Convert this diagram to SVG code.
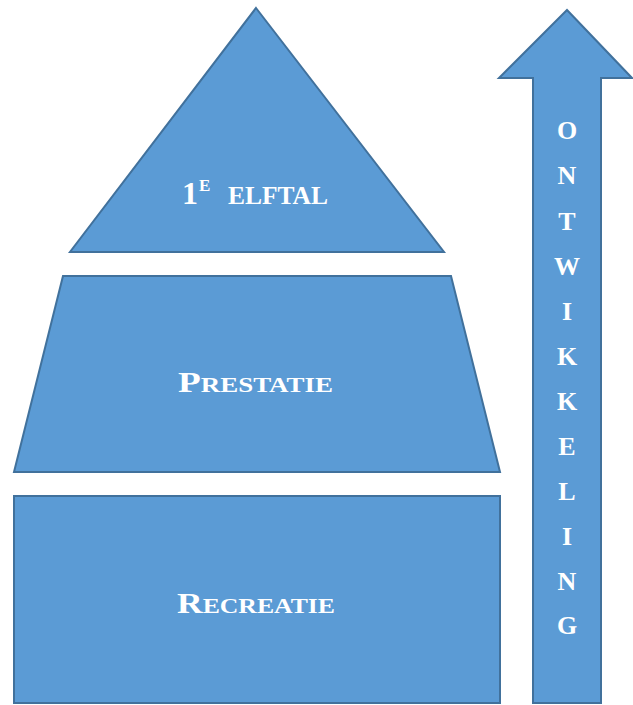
<svg xmlns="http://www.w3.org/2000/svg" width="633" height="705" viewBox="0 0 633 705">
<style>
.shape{fill:#5B9BD5;stroke:#41719C;stroke-width:2;stroke-linejoin:miter}
.lbl{font-family:"Liberation Serif",serif;font-weight:bold;fill:#FFFFFF}
.sc{font-size:21px}
.v{font-family:"Liberation Serif",serif;font-weight:bold;fill:#FFFFFF;font-size:26px;text-anchor:middle}
</style>
<rect width="633" height="705" fill="#FFFFFF"/>
<g id="elftal">
<polygon class="shape" points="256,8 444,252 70,252"/>
<text class="lbl" x="182" y="204" font-size="32">1</text>
<text class="lbl" x="199" y="191" font-size="17">E</text>
<text class="lbl" x="228" y="204" font-size="25" textLength="100" lengthAdjust="spacingAndGlyphs">ELFTAL</text>
</g>
<g id="prestatie">
<polygon class="shape" points="63,276 451,276 500,472 14,472"/>
<text class="lbl" x="178" y="392" font-size="29" textLength="155" lengthAdjust="spacingAndGlyphs">P<tspan class="sc">RESTATIE</tspan></text>
</g>
<g id="recreatie">
<rect class="shape" x="14" y="496" width="486" height="207"/>
<text class="lbl" x="177" y="613" font-size="29" textLength="158" lengthAdjust="spacingAndGlyphs">R<tspan class="sc">ECREATIE</tspan></text>
</g>
<g id="ontwikkeling">
<polygon class="shape" points="567,10 632,78 601,78 601,703 533,703 533,78 499,78"/>
<text class="v" x="567" y="139">O</text>
<text class="v" x="567" y="184">N</text>
<text class="v" x="567" y="230">T</text>
<text class="v" x="567" y="275">W</text>
<text class="v" x="567" y="320">I</text>
<text class="v" x="567" y="365">K</text>
<text class="v" x="567" y="410">K</text>
<text class="v" x="567" y="455">E</text>
<text class="v" x="567" y="500">L</text>
<text class="v" x="567" y="545">I</text>
<text class="v" x="567" y="590">N</text>
<text class="v" x="567" y="634">G</text>
</g>
<g id="connectors"></g>
</svg>
